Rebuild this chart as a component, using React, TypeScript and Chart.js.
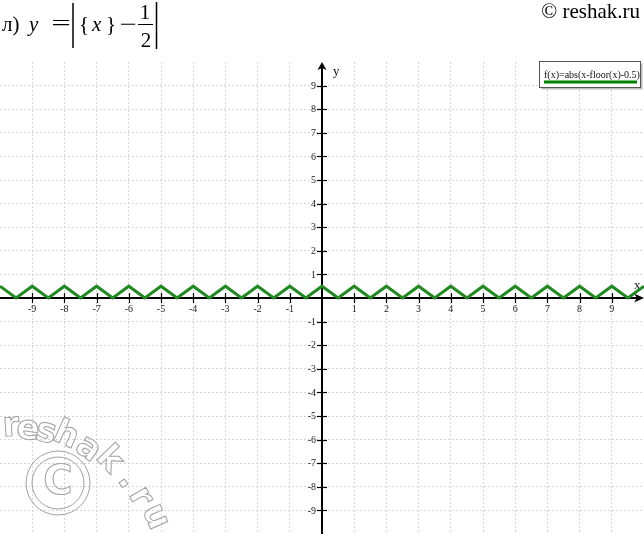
import React, { useEffect, useRef } from "react";
import { Chart, registerables } from "chart.js";

Chart.register(...registerables);

// ---- data ----
const xValues = [
  -10, -9.5, -9, -8.5, -8, -7.5, -7, -6.5, -6, -5.5, -5, -4.5, -4, -3.5, -3, -2.5, -2, -1.5, -1, -0.5,
  0, 0.5, 1, 1.5, 2, 2.5, 3, 3.5, 4, 4.5, 5, 5.5, 6, 6.5, 7, 7.5, 8, 8.5, 9, 9.5, 10,
];
const yValues = [
  0.5, 0, 0.5, 0, 0.5, 0, 0.5, 0, 0.5, 0, 0.5, 0, 0.5, 0, 0.5, 0, 0.5, 0, 0.5, 0,
  0.5, 0, 0.5, 0, 0.5, 0, 0.5, 0, 0.5, 0, 0.5, 0, 0.5, 0, 0.5, 0, 0.5, 0, 0.5, 0, 0.5,
];
const xTickValues = [-9, -8, -7, -6, -5, -4, -3, -2, -1, 1, 2, 3, 4, 5, 6, 7, 8, 9];
const xTickLabels = ["-9", "-8", "-7", "-6", "-5", "-4", "-3", "-2", "-1", "1", "2", "3", "4", "5", "6", "7", "8", "9"];
const yTickValues = [9, 8, 7, 6, 5, 4, 3, 2, 1, -1, -2, -3, -4, -5, -6, -7, -8, -9];
const yTickLabels = ["9", "8", "7", "6", "5", "4", "3", "2", "1", "-1", "-2", "-3", "-4", "-5", "-6", "-7", "-8", "-9"];
const xRange = [-10, 10];
const yRange = [-10, 10];
const seriesLabel = "f(x)=abs(x-floor(x)-0.5)";
const copyrightText = "© reshak.ru";
const watermarkText = "reshak.ru";

const SERIF = "'Liberation Serif', 'Times New Roman', serif";
const GREEN = "#1f8a1f";

const overlayPlugin = {
  id: "overlay",
  beforeDatasetsDraw(chart: any) {
    const ctx = chart.ctx as CanvasRenderingContext2D;
    const xs = chart.scales.x;
    const ys = chart.scales.y;
    const area = chart.chartArea;
    const ox = Math.round(xs.getPixelForValue(0));
    const oy = Math.round(ys.getPixelForValue(0));

    // watermark
    ctx.save();
    ctx.strokeStyle = "#a0a0a0";
    ctx.lineWidth = 1;
    ctx.font = "bold 34px 'DejaVu Sans', Verdana, sans-serif";
    ctx.textAlign = "center";
    ctx.textBaseline = "middle";
    const wm: [number, number, number][] = [
      [11, 427, -4],
      [28, 430, 8],
      [46, 433, 14],
      [66, 436, 24],
      [88, 449, 36],
      [109, 460, 46],
      [128, 480, 54],
      [140, 497, 60],
      [155, 517, 66],
    ];
    watermarkText.split("").forEach((ch, i) => {
      const p = wm[i];
      ctx.save();
      ctx.translate(p[0], p[1]);
      ctx.rotate((p[2] * Math.PI) / 180);
      ctx.strokeText(ch, 0, 0);
      ctx.restore();
    });
    ctx.beginPath();
    ctx.arc(58, 483, 32, 0, Math.PI * 2);
    ctx.stroke();
    ctx.beginPath();
    ctx.arc(58, 483, 26, 0, Math.PI * 2);
    ctx.stroke();
    ctx.font = "bold 40px 'DejaVu Sans', Verdana, sans-serif";
    ctx.strokeText("C", 58, 484);
    ctx.restore();

    // axes
    ctx.save();
    ctx.strokeStyle = "#000";
    ctx.fillStyle = "#000";
    ctx.lineWidth = 2;
    ctx.beginPath();
    ctx.moveTo(area.left, oy);
    ctx.lineTo(area.right - 6, oy);
    ctx.stroke();
    ctx.beginPath();
    ctx.moveTo(ox, area.bottom);
    ctx.lineTo(ox, area.top + 6);
    ctx.stroke();
    // arrow heads
    ctx.beginPath();
    ctx.moveTo(area.right, oy);
    ctx.lineTo(area.right - 10, oy - 4.5);
    ctx.lineTo(area.right - 7, oy);
    ctx.lineTo(area.right - 10, oy + 4.5);
    ctx.closePath();
    ctx.fill();
    ctx.beginPath();
    ctx.moveTo(ox, area.top);
    ctx.lineTo(ox - 4.5, area.top + 8);
    ctx.lineTo(ox, area.top + 6);
    ctx.lineTo(ox + 4.5, area.top + 8);
    ctx.closePath();
    ctx.fill();

    // tick marks
    ctx.lineWidth = 1.2;
    xTickValues.forEach((v) => {
      const px = Math.round(xs.getPixelForValue(v)) + 0.5;
      ctx.beginPath();
      ctx.moveTo(px, oy - 5);
      ctx.lineTo(px, oy + 5);
      ctx.stroke();
    });
    yTickValues.forEach((v) => {
      const py = Math.round(ys.getPixelForValue(v)) + 0.5;
      ctx.beginPath();
      ctx.moveTo(ox - 5, py);
      ctx.lineTo(ox + 5, py);
      ctx.stroke();
    });

    // tick labels
    ctx.fillStyle = "#222";
    ctx.font = `10px ${SERIF}`;
    ctx.textAlign = "center";
    ctx.textBaseline = "top";
    xTickValues.forEach((v, i) => {
      ctx.fillText(xTickLabels[i], xs.getPixelForValue(v), oy + 6);
    });
    ctx.textAlign = "right";
    ctx.textBaseline = "middle";
    yTickValues.forEach((v, i) => {
      ctx.fillText(yTickLabels[i], ox - 6, ys.getPixelForValue(v) + 0.5);
    });

    // axis names
    ctx.fillStyle = "#111";
    ctx.font = `13px ${SERIF}`;
    ctx.textAlign = "left";
    ctx.textBaseline = "alphabetic";
    ctx.fillText("y", ox + 11, area.top + 13);
    ctx.fillText("x", area.right - 10, oy - 9);
    ctx.restore();
  },
  afterDraw(chart: any) {
    const ctx = chart.ctx as CanvasRenderingContext2D;
    ctx.save();
    ctx.fillStyle = "#000";
    ctx.strokeStyle = "#000";
    ctx.textBaseline = "alphabetic";
    ctx.textAlign = "left";

    // title: л) y = |{x} − 1/2|
    ctx.font = `21px ${SERIF}`;
    ctx.fillText("л)", 2, 31);
    ctx.font = `italic 21px ${SERIF}`;
    ctx.fillText("y", 29, 31);
    ctx.save();
    ctx.font = `21px ${SERIF}`;
    ctx.textAlign = "center";
    ctx.translate(61, 0);
    ctx.scale(1.65, 1);
    ctx.fillText("=", 0, 30);
    ctx.restore();
    ctx.lineWidth = 1.5;
    ctx.beginPath();
    ctx.moveTo(73, 3);
    ctx.lineTo(73, 48);
    ctx.stroke();
    ctx.font = `21px ${SERIF}`;
    ctx.fillText("{", 79, 31);
    ctx.font = `italic 21px ${SERIF}`;
    ctx.fillText("x", 92, 31);
    ctx.font = `21px ${SERIF}`;
    ctx.fillText("}", 106, 31);
    ctx.save();
    ctx.textAlign = "center";
    ctx.translate(128, 0);
    ctx.scale(1.45, 1);
    ctx.fillText("−", 0, 31);
    ctx.restore();
    ctx.textAlign = "center";
    ctx.fillText("1", 145, 19);
    ctx.fillText("2", 146, 47);
    ctx.lineWidth = 1;
    ctx.beginPath();
    ctx.moveTo(138, 24.5);
    ctx.lineTo(153, 24.5);
    ctx.stroke();
    ctx.lineWidth = 1.5;
    ctx.beginPath();
    ctx.moveTo(156.5, 2);
    ctx.lineTo(156.5, 49);
    ctx.stroke();

    // copyright
    ctx.textAlign = "right";
    ctx.font = `21px ${SERIF}`;
    ctx.fillText(copyrightText, 640, 18);

    // legend box
    const bx = 539.5, by = 61.5, bw = 101, bh = 26;
    ctx.fillStyle = "#bdbdbd";
    ctx.fillRect(bx + 2, by + 2, bw, bh);
    ctx.fillStyle = "#fff";
    ctx.fillRect(bx, by, bw, bh);
    ctx.strokeStyle = "#555";
    ctx.lineWidth = 1;
    ctx.strokeRect(bx, by, bw, bh);
    ctx.fillStyle = "#111";
    ctx.textAlign = "left";
    ctx.font = `10px ${SERIF}`;
    ctx.fillText(seriesLabel, 544, 78);
    ctx.strokeStyle = "#008000";
    ctx.lineWidth = 3;
    ctx.beginPath();
    ctx.moveTo(544, 82);
    ctx.lineTo(637, 82);
    ctx.stroke();
    ctx.restore();
  },
};

export default function App() {
  const canvasRef = useRef<HTMLCanvasElement | null>(null);

  useEffect(() => {
    const canvas = canvasRef.current;
    if (!canvas) return;
    const gridColor = (c: any) => {
      const v = c.tick ? c.tick.value : 0;
      if (v === 0 || Math.abs(v) >= 10) return "rgba(0,0,0,0)";
      return "#d6d6d6";
    };
    const chart = new Chart(canvas, {
      type: "line",
      data: {
        datasets: [
          {
            label: seriesLabel,
            data: xValues.map((x, i) => ({ x, y: yValues[i] })),
            borderColor: GREEN,
            borderWidth: 3,
            pointRadius: 0,
            tension: 0,
            fill: false,
          },
        ],
      },
      options: {
        responsive: false,
        maintainAspectRatio: false,
        devicePixelRatio: 1,
        animation: false,
        events: [],
        layout: { padding: { top: 62, left: 0, right: 0, bottom: 0 } },
        plugins: {
          legend: { display: false },
          tooltip: { enabled: false },
          title: { display: false },
        },
        scales: {
          x: {
            type: "linear",
            min: xRange[0],
            max: xRange[1],
            ticks: { display: false, stepSize: 1 },
            grid: { color: gridColor, lineWidth: 1, drawTicks: false },
            border: { display: false, dash: [2, 2] },
          },
          y: {
            type: "linear",
            min: yRange[0],
            max: yRange[1],
            ticks: { display: false, stepSize: 1 },
            grid: { color: gridColor, lineWidth: 1, drawTicks: false },
            border: { display: false, dash: [2, 2] },
          },
        },
      } as any,
      plugins: [overlayPlugin],
    });
    return () => chart.destroy();
  }, []);

  return (
    <div style={{ position: "absolute", left: 0, top: 0, width: 644, height: 534, background: "#fff" }}>
      <canvas ref={canvasRef} width={644} height={534} style={{ display: "block" }} />
    </div>
  );
}
